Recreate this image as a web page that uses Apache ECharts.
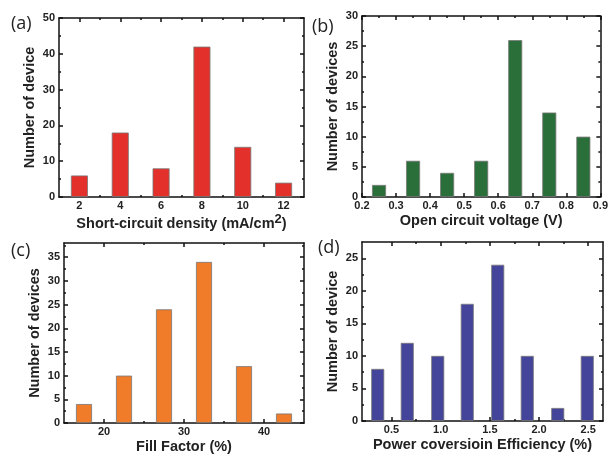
<!DOCTYPE html>
<html>
<head>
<meta charset="utf-8">
<script src="https://cdn.jsdelivr.net/npm/echarts@6/dist/echarts.min.js"></script>
<style>
  html, body { margin: 0; padding: 0; background: #fff; }
  #chart { width: 611px; height: 456px; }
</style>
</head>
<body>
<div id="chart"></div>
<script>
// (a) short-circuit density
const aX = [2, 4, 6, 8, 10, 12]
const aCount = [6, 18, 8, 42, 14, 4]
const aXTicks = [2, 4, 6, 8, 10, 12]
const aXMinor = [3, 5, 7, 9, 11]
const aYTicks = [0, 10, 20, 30, 40, 50]
const aYMinor = [5, 15, 25, 35, 45]

// (b) open circuit voltage
const bX = [0.25, 0.35, 0.45, 0.55, 0.65, 0.75, 0.85]
const bCount = [2, 6, 4, 6, 26, 14, 10]
const bXTicks = [0.2, 0.3, 0.4, 0.5, 0.6, 0.7, 0.8, 0.9]
const bXMinor = [0.25, 0.35, 0.45, 0.55, 0.65, 0.75, 0.85]
const bYTicks = [0, 5, 10, 15, 20, 25, 30]
const bYMinor = [2.5, 7.5, 12.5, 17.5, 22.5, 27.5]

// (c) fill factor
const cX = [17.5, 22.5, 27.5, 32.5, 37.5, 42.5]
const cCount = [4, 10, 24, 34, 12, 2]
const cXTicks = [20, 30, 40]
const cXMinor = [25, 35]
const cYTicks = [0, 5, 10, 15, 20, 25, 30, 35]
const cYMinor = [2.5, 7.5, 12.5, 17.5, 22.5, 27.5, 32.5, 37.5]

// (d) power conversion efficiency
const dX = [0.36, 0.66, 0.97, 1.27, 1.58, 1.88, 2.19, 2.49]
const dCount = [8, 12, 10, 18, 24, 10, 2, 10]
const dXTicks = [0.5, 1.0, 1.5, 2.0, 2.5]
const dXMinor = [0.75, 1.25, 1.75, 2.25]
const dYTicks = [0, 5, 10, 15, 20, 25]
const dYMinor = [2.5, 7.5, 12.5, 17.5, 22.5]

const FONT = '"Liberation Sans", Arial, sans-serif'
const lineStyle = { color: '#111', width: 1.5 }
const labelStyle = { color: '#222', fontSize: 11, fontWeight: 'bold', fontFamily: FONT }
const nameStyle = { color: '#222', fontSize: 14.5, fontWeight: 'bold', fontFamily: FONT }

const panels = [
  { grid: { left: 59, top: 18, width: 245, height: 179 },
    xMin: 1, xMax: 13, yMin: 0, yMax: 50,
    xTicks: aXTicks, xMinor: aXMinor, yTicks: aYTicks, yMinor: aYMinor,
    x: aX, y: aCount, color: '#e3302b', barWidth: 17,
    xName: 'Short-circuit density (mA/cm{s|2})', yName: 'Number of device',
    digits: 0, label: '(a)', lx: 11, ly: 15 },
  { grid: { left: 362, top: 16, width: 241, height: 181 },
    xMin: 0.2, xMax: 0.9, yMin: 0, yMax: 30,
    xTicks: bXTicks, xMinor: bXMinor, yTicks: bYTicks, yMinor: bYMinor,
    x: bX, y: bCount, color: '#2a6f39', barWidth: 14,
    xName: 'Open circuit voltage (V)', yName: 'Number of devices',
    digits: 1, label: '(b)', lx: 312, ly: 18 },
  { grid: { left: 64, top: 243, width: 240, height: 180 },
    xMin: 15, xMax: 45, yMin: 0, yMax: 38,
    xTicks: cXTicks, xMinor: cXMinor, yTicks: cYTicks, yMinor: cYMinor,
    x: cX, y: cCount, color: '#f07b29', barWidth: 16,
    xName: 'Fill Factor (%)', yName: 'Number of devices',
    digits: 0, label: '(c)', lx: 11, ly: 242 },
  { grid: { left: 362, top: 242, width: 241, height: 179 },
    xMin: 0.2, xMax: 2.65, yMin: 0, yMax: 27.5,
    xTicks: dXTicks, xMinor: dXMinor, yTicks: dYTicks, yMinor: dYMinor,
    x: dX, y: dCount, color: '#43449a', barWidth: 13,
    xName: 'Power coversioin Efficiency (%)', yName: 'Number of device',
    digits: 1, label: '(d)', lx: 318, ly: 239 }
]

const grids = []
const xAxes = []
const yAxes = []
const series = []
const graphics = []

panels.forEach((p, g) => {
  grids.push(p.grid)
  const xBase = { gridIndex: g, type: 'value', min: p.xMin, max: p.xMax, splitLine: { show: false } }
  const yBase = { gridIndex: g, type: 'value', min: p.yMin, max: p.yMax, splitLine: { show: false } }
  const mainX = xAxes.length
  // bottom axis, carries labels and title
  xAxes.push(Object.assign({}, xBase, {
    position: 'bottom',
    axisLine: { show: true, onZero: false, lineStyle },
    axisTick: { show: true, inside: true, length: 4, customValues: p.xTicks, lineStyle },
    axisLabel: Object.assign({ customValues: p.xTicks, margin: 3,
      formatter: v => Number(v).toFixed(p.digits) }, labelStyle),
    name: p.xName, nameLocation: 'middle', nameGap: 16,
    nameTextStyle: Object.assign({ rich: { s: Object.assign({}, nameStyle, { fontSize: 13, padding: [0, 0, 8, 0] }) } }, nameStyle)
  }))
  // minor ticks + top side of the box
  xAxes.push(Object.assign({}, xBase, {
    position: 'bottom',
    axisLine: { show: false, onZero: false },
    axisTick: { show: true, inside: true, length: 2, customValues: p.xMinor, lineStyle },
    axisLabel: { show: false }
  }))
  xAxes.push(Object.assign({}, xBase, {
    position: 'top',
    axisLine: { show: true, onZero: false, lineStyle },
    axisTick: { show: true, inside: true, length: 4, customValues: p.xTicks, lineStyle },
    axisLabel: { show: false }
  }))
  xAxes.push(Object.assign({}, xBase, {
    position: 'top',
    axisLine: { show: false, onZero: false },
    axisTick: { show: true, inside: true, length: 2, customValues: p.xMinor, lineStyle },
    axisLabel: { show: false }
  }))
  const mainY = yAxes.length
  yAxes.push(Object.assign({}, yBase, {
    position: 'left',
    axisLine: { show: true, onZero: false, lineStyle },
    axisTick: { show: true, inside: true, length: 4, customValues: p.yTicks, lineStyle },
    axisLabel: Object.assign({ customValues: p.yTicks, margin: 4 }, labelStyle),
    name: p.yName, nameLocation: 'middle', nameGap: 22,
    nameTextStyle: nameStyle
  }))
  yAxes.push(Object.assign({}, yBase, {
    position: 'left',
    axisLine: { show: false, onZero: false },
    axisTick: { show: true, inside: true, length: 2, customValues: p.yMinor, lineStyle },
    axisLabel: { show: false }
  }))
  yAxes.push(Object.assign({}, yBase, {
    position: 'right',
    axisLine: { show: true, onZero: false, lineStyle },
    axisTick: { show: true, inside: true, length: 4, customValues: p.yTicks, lineStyle },
    axisLabel: { show: false }
  }))
  yAxes.push(Object.assign({}, yBase, {
    position: 'right',
    axisLine: { show: false, onZero: false },
    axisTick: { show: true, inside: true, length: 2, customValues: p.yMinor, lineStyle },
    axisLabel: { show: false }
  }))
  series.push({
    type: 'bar',
    xAxisIndex: mainX,
    yAxisIndex: mainY,
    barWidth: p.barWidth,
    data: p.x.map((v, i) => [v, p.y[i]]),
    itemStyle: { color: p.color, borderColor: '#777', borderWidth: 0.8 },
    z: 1
  })
  graphics.push({
    type: 'text', left: p.lx, top: p.ly,
    style: { text: p.label, fill: '#222', font: '18px "Open Sans", "Noto Sans", sans-serif' }
  })
})

const chart = echarts.init(document.getElementById('chart'))
chart.setOption({
  animation: false,
  grid: grids,
  xAxis: xAxes,
  yAxis: yAxes,
  series: series,
  graphic: graphics
})
</script>
</body>
</html>
